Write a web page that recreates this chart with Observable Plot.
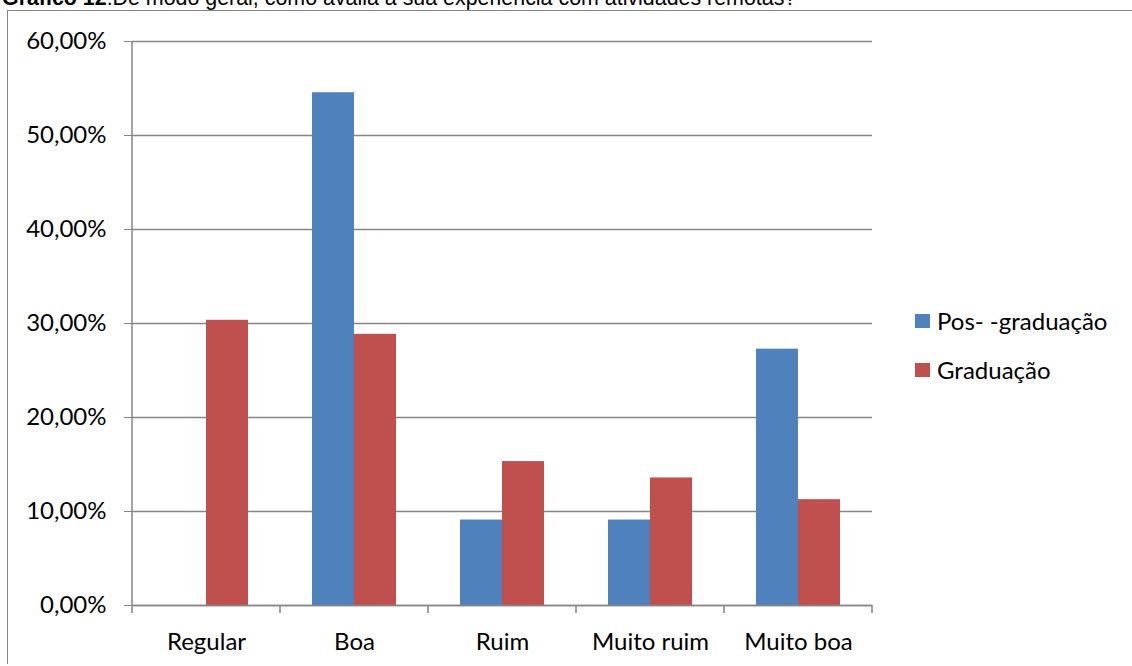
<!DOCTYPE html>
<html>
<head>
<meta charset="utf-8">
<script src="https://cdn.jsdelivr.net/npm/d3@7"></script>
<script src="https://cdn.jsdelivr.net/npm/@observablehq/plot@0.6"></script>
<style>
  body { margin: 0; background: #fff; }
  #chart { position: relative; width: 1132px; height: 666px; overflow: hidden; background: #fff; }
  #title { position: absolute; left: 2px; top: -14px; font: 21.4px "Liberation Sans", Arial, sans-serif; white-space: nowrap; color: #000; }
  #frame { position: absolute; left: 7px; top: 10px; right: -10px; bottom: 2px; border-top: 1.5px solid #868686; border-left: 1.5px solid #868686; }
  #plot { position: absolute; left: 0; top: 0; }
  #legend { position: absolute; left: 915px; top: 296px; font: 24px Lato, sans-serif; color: #000; }
  #legend .item { height: 49px; display: flex; align-items: center; }
  #legend .sw { width: 15px; height: 14px; margin-right: 7px; }
</style>
</head>
<body>
<div id="chart">
  <div id="title"><b>Gráfico 12</b>:De modo geral, como avalia a sua experiência com atividades remotas?</div>
  <div id="frame"></div>
  <div id="plot"></div>
  <div id="legend"></div>
</div>
<script>
// Categorias de avaliação, na ordem do eixo
const categories = ["Regular", "Boa", "Ruim", "Muito ruim", "Muito boa"];
// Séries (grupos de respondentes)
const series = ["Pos- -graduação", "Graduação"];
// Percentuais por categoria
const posGraduacao = [0, 54.55, 9.09, 9.09, 27.27];
const graduacao = [30.34, 28.85, 15.31, 13.57, 11.26];
// Cores das séries
const colors = ["#4F81BD", "#C0504D"];
// Marcas do eixo vertical
const yTicks = [0, 10, 20, 30, 40, 50, 60];

const rows = categories.flatMap((c, i) => [
  { categoria: c, serie: series[0], valor: posGraduacao[i] },
  { categoria: c, serie: series[1], valor: graduacao[i] }
]);

const fmt = d => d.toFixed(2).replace(".", ",") + "%";

const plot = Plot.plot({
  width: 1132,
  height: 666,
  marginLeft: 131,
  marginRight: 259,
  marginTop: 41,
  marginBottom: 61,
  style: { fontFamily: "Lato, sans-serif", fontSize: "24px", color: "#000", background: "transparent", overflow: "visible" },
  fx: { domain: categories, padding: 0, label: null, axis: "bottom", tickSize: 0, tickPadding: 27 },
  x: { domain: series, paddingInner: 0, paddingOuter: 0.755, axis: null },
  y: { domain: [0, 60], axis: null },
  color: { domain: series, range: colors },
  marks: [
    Plot.gridY(yTicks, { stroke: "#868686", strokeOpacity: 1, strokeWidth: 1.5 }),
    Plot.barY(rows, { fx: "categoria", x: "serie", y: "valor", fill: "serie" }),
    Plot.ruleY([0], { stroke: "#868686", strokeWidth: 1.5 }),
    Plot.axisY(yTicks, { tickSize: 8, tickPadding: 18, tickFormat: fmt, stroke: "#868686", fill: "#000", label: null })
  ]
});

// Linha do eixo vertical e marcas entre as categorias
const fx = plot.scale("fx"), ys = plot.scale("y");
const y0 = ys.apply(0), yTop = ys.apply(60);
const g = d3.select(plot).append("g").attr("stroke", "#868686").attr("stroke-width", 1.5);
const left = fx.apply(categories[0]);
g.append("line").attr("x1", left).attr("x2", left).attr("y1", yTop).attr("y2", y0);
const edges = categories.map(c => fx.apply(c)).concat([fx.apply(categories[categories.length - 1]) + fx.bandwidth]);
for (const e of edges) g.append("line").attr("x1", e).attr("x2", e).attr("y1", y0).attr("y2", y0 + 8);

document.getElementById("plot").appendChild(plot);

// Legenda
const legend = d3.select("#legend");
series.forEach((s, i) => {
  const item = legend.append("div").attr("class", "item");
  item.append("div").attr("class", "sw").style("background", colors[i]);
  item.append("span").text(s);
});
</script>
</body>
</html>
